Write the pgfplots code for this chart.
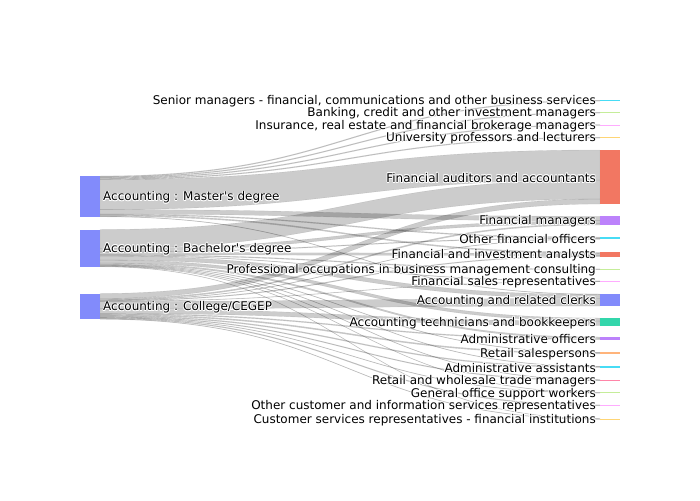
\documentclass[border=0pt]{standalone}
\usepackage{pgfplots}
\usepackage{pgfplotstable}
\pgfplotsset{compat=1.18}
\usepackage{fontspec}
\setmainfont{DejaVu Sans}[Ligatures=TeXOff]

\definecolor{cblue}{RGB}{130,139,251}
\definecolor{cred}{RGB}{242,119,98}
\definecolor{cpurple}{RGB}{188,130,251}
\definecolor{ccyan}{RGB}{71,220,245}
\definecolor{cgreen}{RGB}{51,214,171}
\definecolor{corange}{RGB}{255,180,123}
\definecolor{crose}{RGB}{255,133,168}
\definecolor{clime}{RGB}{197,237,153}
\definecolor{cpink}{RGB}{255,172,255}
\definecolor{cyellow}{RGB}{254,213,117}

% links: source, target, value (in pixels of node height)
\pgfplotstableread{
src tgt value
M Senior 0.9
M Banking 0.9
M Insurance 0.9
M University 0.9
M FinAud 30
B FinAud 19
C FinAud 5
M FinMgr 4.5
B FinMgr 3
C FinMgr 1.2
M OtherFin 1
B OtherFin 0.8
C OtherFin 0.5
M FIA 1.2
B FIA 2.3
C FIA 0.8
B Prof 0.9
B FinSales 0.5
C FinSales 0.4
M Clerks 0.5
B Clerks 4
C Clerks 7.5
B Tech 3
C Tech 4.5
B AdminOff 1.5
C AdminOff 1
B RetailSales 0.5
C RetailSales 1.2
B AdminAsst 0.5
C AdminAsst 1
B RW 0.5
C RW 0.8
B General 0.4
C General 0.5
C OtherCust 0.9
B CustServ 0.4
C CustServ 0.5
}\links

\newcommand{\defnode}[2]{%
  \expandafter\xdef\csname top#1\endcsname{#2}%
  \expandafter\xdef\csname off#1\endcsname{#2}}

\newcommand{\link}[3]{%
  \pgfmathsetmacro{\ya}{\csname off#1\endcsname}%
  \pgfmathsetmacro{\yb}{\csname off#2\endcsname}%
  \pgfmathsetmacro{\yc}{\ya+#3}%
  \pgfmathsetmacro{\yd}{\yb+#3}%
  \expandafter\xdef\csname off#1\endcsname{\yc}%
  \expandafter\xdef\csname off#2\endcsname{\yd}%
  \edef\temp{\noexpand\filldraw[black,fill opacity=0.2,draw opacity=0.12,line width=0.35pt]
    (axis cs:100,\ya) .. controls (axis cs:350,\ya) and (axis cs:350,\yb) .. (axis cs:600,\yb)
    -- (axis cs:600,\yd) .. controls (axis cs:350,\yd) and (axis cs:350,\yc) .. (axis cs:100,\yc) -- cycle;}%
  \temp}

\newcommand{\drawnode}[4]{%
  \edef\temp{\noexpand\addplot[fill=#4,draw=none,forget plot] coordinates
    {(#2,\csname top#1\endcsname) (#3,\csname top#1\endcsname) (#3,\csname off#1\endcsname) (#2,\csname off#1\endcsname)} -- cycle;}%
  \temp}

\newcommand{\halolabel}[4]{%
  \node[anchor=#3,inner sep=0pt,text=white,xshift=0.7pt] at (axis cs:#1,#2) {#4};
  \node[anchor=#3,inner sep=0pt,text=white,xshift=-0.7pt] at (axis cs:#1,#2) {#4};
  \node[anchor=#3,inner sep=0pt,text=white,yshift=0.7pt] at (axis cs:#1,#2) {#4};
  \node[anchor=#3,inner sep=0pt,text=white,yshift=-0.7pt] at (axis cs:#1,#2) {#4};
  \node[anchor=#3,inner sep=0pt,text=white,xshift=0.6pt,yshift=0.6pt] at (axis cs:#1,#2) {#4};
  \node[anchor=#3,inner sep=0pt,text=white,xshift=-0.6pt,yshift=-0.6pt] at (axis cs:#1,#2) {#4};
  \node[anchor=#3,inner sep=0pt,text=white,xshift=0.6pt,yshift=-0.6pt] at (axis cs:#1,#2) {#4};
  \node[anchor=#3,inner sep=0pt,text=white,xshift=-0.6pt,yshift=0.6pt] at (axis cs:#1,#2) {#4};
  \node[anchor=#3,inner sep=0pt,text=black] at (axis cs:#1,#2) {#4};}

\newcommand{\nodelabel}[4]{%
  \pgfmathsetmacro{\yy}{(\csname top#1\endcsname+\csname off#1\endcsname)/2+1}%
  \edef\temp{\noexpand\halolabel{#2}{\yy}{#3}}\temp{#4}}

\begin{document}
\begin{tikzpicture}[font=\fontsize{12pt}{14pt}\selectfont]
\begin{axis}[scale only axis, width=700pt, height=500pt,
  xmin=0, xmax=700, ymin=0, ymax=500, y dir=reverse,
  hide axis, clip=false]
\addplot[draw=none, forget plot] coordinates {(0,0) (700,500)};

\defnode{M}{176}
\defnode{B}{229.5}
\defnode{C}{293.5}
\defnode{Senior}{100.2}
\defnode{Banking}{112.2}
\defnode{Insurance}{124.6}
\defnode{University}{137.2}
\defnode{FinAud}{150}
\defnode{FinMgr}{216.3}
\defnode{OtherFin}{237}
\defnode{FIA}{252.3}
\defnode{Prof}{268.9}
\defnode{FinSales}{280.9}
\defnode{Clerks}{294}
\defnode{Tech}{318}
\defnode{AdminOff}{337}
\defnode{RetailSales}{352.2}
\defnode{AdminAsst}{366.2}
\defnode{RW}{379.5}
\defnode{General}{392.3}
\defnode{OtherCust}{404.9}
\defnode{CustServ}{418.5}

\pgfplotstablegetrowsof{\links}
\pgfmathtruncatemacro{\nrows}{\pgfplotsretval-1}
\pgfplotsforeachungrouped \i in {0,...,\nrows}{%
  \pgfplotstablegetelem{\i}{src}\of\links \edef\s{\pgfplotsretval}%
  \pgfplotstablegetelem{\i}{tgt}\of\links \edef\t{\pgfplotsretval}%
  \pgfplotstablegetelem{\i}{value}\of\links \edef\v{\pgfplotsretval}%
  \link{\s}{\t}{\v}%
}

\drawnode{M}{80}{100}{cblue}
\drawnode{B}{80}{100}{cblue}
\drawnode{C}{80}{100}{cblue}
\drawnode{Senior}{600}{620}{ccyan}
\drawnode{Banking}{600}{620}{clime}
\drawnode{Insurance}{600}{620}{cpink}
\drawnode{University}{600}{620}{cyellow}
\drawnode{FinAud}{600}{620}{cred}
\drawnode{FinMgr}{600}{620}{cpurple}
\drawnode{OtherFin}{600}{620}{ccyan}
\drawnode{FIA}{600}{620}{cred}
\drawnode{Prof}{600}{620}{clime}
\drawnode{FinSales}{600}{620}{cpink}
\drawnode{Clerks}{600}{620}{cblue}
\drawnode{Tech}{600}{620}{cgreen}
\drawnode{AdminOff}{600}{620}{cpurple}
\drawnode{RetailSales}{600}{620}{corange}
\drawnode{AdminAsst}{600}{620}{ccyan}
\drawnode{RW}{600}{620}{crose}
\drawnode{General}{600}{620}{clime}
\drawnode{OtherCust}{600}{620}{cpink}
\drawnode{CustServ}{600}{620}{cyellow}

\nodelabel{M}{103}{west}{Accounting : Master's degree}
\nodelabel{B}{103}{west}{Accounting : Bachelor's degree}
\nodelabel{C}{103}{west}{Accounting : College/CEGEP}
\nodelabel{Senior}{596}{east}{Senior managers - financial, communications and other business services}
\nodelabel{Banking}{596}{east}{Banking, credit and other investment managers}
\nodelabel{Insurance}{596}{east}{Insurance, real estate and financial brokerage managers}
\nodelabel{University}{596}{east}{University professors and lecturers}
\nodelabel{FinAud}{596}{east}{Financial auditors and accountants}
\nodelabel{FinMgr}{596}{east}{Financial managers}
\nodelabel{OtherFin}{596}{east}{Other financial officers}
\nodelabel{FIA}{596}{east}{Financial and investment analysts}
\nodelabel{Prof}{596}{east}{Professional occupations in business management consulting}
\nodelabel{FinSales}{596}{east}{Financial sales representatives}
\nodelabel{Clerks}{596}{east}{Accounting and related clerks}
\nodelabel{Tech}{596}{east}{Accounting technicians and bookkeepers}
\nodelabel{AdminOff}{596}{east}{Administrative officers}
\nodelabel{RetailSales}{596}{east}{Retail salespersons}
\nodelabel{AdminAsst}{596}{east}{Administrative assistants}
\nodelabel{RW}{596}{east}{Retail and wholesale trade managers}
\nodelabel{General}{596}{east}{General office support workers}
\nodelabel{OtherCust}{596}{east}{Other customer and information services representatives}
\nodelabel{CustServ}{596}{east}{Customer services representatives - financial institutions}
\end{axis}
\end{tikzpicture}
\end{document}
